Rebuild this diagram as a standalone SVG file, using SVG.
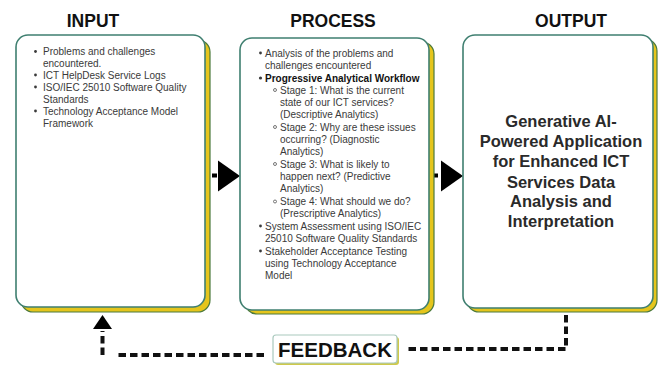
<svg xmlns="http://www.w3.org/2000/svg" xmlns:xlink="http://www.w3.org/1999/xlink" width="662" height="367" viewBox="0 0 662 367">
  <style>
    .title { font-family: "Liberation Sans", Arial, sans-serif; font-weight: bold; font-size: 17.5px; fill: #111; text-anchor: middle; }
    .card { fill: #ffffff; stroke: #3f7f70; stroke-width: 1.6; }
    .shadow { fill: #e5c51c; stroke: #4c7a3c; stroke-width: 1.2; }
    .body { font-family: "Liberation Sans", Arial, sans-serif; font-size: 10px; fill: #3a3a3a; }
    .strong { font-weight: bold; fill: #111; }
    .dot { fill: #3a3a3a; }
    .ring { fill: none; stroke: #555; stroke-width: 0.8; }
    .result { font-family: "Liberation Sans", Arial, sans-serif; font-weight: bold; font-size: 16.5px; fill: #2a2a2a; text-anchor: middle; }
    .dash { fill: none; stroke: #111; stroke-width: 4; stroke-dasharray: 7.5 4; }
    .head { fill: #000; }
    .fb-box { fill: #ffffff; stroke: #a9c9bd; stroke-width: 1.2; }
    .fb-shadow { fill: #cfc94a; }
    .fb-text { font-family: "Liberation Sans", Arial, sans-serif; font-weight: bold; font-size: 20.5px; fill: #111; text-anchor: middle; }
  </style>
  <defs>
    <polygon id="flow-head" points="0,-15.5 22,0 0,15.5"/>
  </defs>

  <rect width="662" height="367" fill="#ffffff"/>

  <!-- column headings -->
  <text class="title" x="93" y="27">INPUT</text>
  <text class="title" x="333" y="27">PROCESS</text>
  <text class="title" x="571" y="27">OUTPUT</text>

  <!-- connectors -->
  <g id="connectors">
    <!-- input to process -->
    <rect x="212" y="173.5" width="5" height="4" class="head"/>
    <use xlink:href="#flow-head" class="head" x="218" y="176"/>
    <!-- process to output -->
    <rect x="434" y="173.5" width="4" height="4" class="head"/>
    <use xlink:href="#flow-head" class="head" x="441" y="176"/>
    <!-- feedback loop: output down and back to feedback -->
    <path class="dash" d="M566 315 V349 H405"/>
    <!-- feedback back to input -->
    <path class="dash" d="M264 355 H118"/>
    <path class="dash" d="M102.5 355 V331"/>
    <polygon class="head" points="93,329 112,329 102.5,315"/>
  </g>

  <!-- INPUT -->
  <g id="input">
    <rect class="shadow" x="21" y="40" width="189" height="272" rx="12"/>
    <rect class="card" x="16" y="35" width="189" height="272" rx="12"/>
    <circle class="dot" cx="35.5" cy="51.5" r="1.4"/>
    <text class="body" x="43" y="55">Problems and challenges</text>
    <text class="body" x="43" y="66.5">encountered.</text>
    <circle class="dot" cx="35.5" cy="75" r="1.4"/>
    <text class="body" x="43" y="78.5">ICT HelpDesk Service Logs</text>
    <circle class="dot" cx="35.5" cy="87" r="1.4"/>
    <text class="body" x="43" y="90.5">ISO/IEC 25010 Software Quality</text>
    <text class="body" x="43" y="102.5">Standards</text>
    <circle class="dot" cx="35.5" cy="111" r="1.4"/>
    <text class="body" x="43" y="114.5">Technology Acceptance Model</text>
    <text class="body" x="43" y="126.5">Framework</text>
  </g>

  <!-- PROCESS -->
  <g id="process">
    <rect class="shadow" x="245" y="42" width="189" height="272" rx="12"/>
    <rect class="card" x="240" y="38" width="189" height="272" rx="12"/>
    <circle class="dot" cx="260.5" cy="53" r="1.4"/>
    <text class="body" x="265" y="56.5">Analysis of the problems and</text>
    <text class="body" x="265" y="68.5">challenges encountered</text>
    <circle class="dot" cx="260.5" cy="78" r="1.6" fill="#111"/>
    <text class="body strong" x="265" y="81.5">Progressive Analytical Workflow</text>
    <circle class="ring" cx="275" cy="90" r="1.5"/>
    <text class="body" x="280" y="93.5">Stage 1: What is the current</text>
    <text class="body" x="280" y="105.5">state of our ICT services?</text>
    <text class="body" x="280" y="117.5">(Descriptive Analytics)</text>
    <circle class="ring" cx="275" cy="127" r="1.5"/>
    <text class="body" x="280" y="130.5">Stage 2: Why are these issues</text>
    <text class="body" x="280" y="142.5">occurring? (Diagnostic</text>
    <text class="body" x="280" y="155">Analytics)</text>
    <circle class="ring" cx="275" cy="164" r="1.5"/>
    <text class="body" x="280" y="167.5">Stage 3: What is likely to</text>
    <text class="body" x="280" y="179.5">happen next? (Predictive</text>
    <text class="body" x="280" y="191.5">Analytics)</text>
    <circle class="ring" cx="275" cy="201.5" r="1.5"/>
    <text class="body" x="280" y="205">Stage 4: What should we do?</text>
    <text class="body" x="280" y="217">(Prescriptive Analytics)</text>
    <circle class="dot" cx="260.5" cy="226" r="1.4"/>
    <text class="body" x="265" y="229.5">System Assessment using ISO/IEC</text>
    <text class="body" x="265" y="241.5">25010 Software Quality Standards</text>
    <circle class="dot" cx="260.5" cy="251" r="1.4"/>
    <text class="body" x="265" y="254.5">Stakeholder Acceptance Testing</text>
    <text class="body" x="265" y="266.5">using Technology Acceptance</text>
    <text class="body" x="265" y="278.5">Model</text>
  </g>

  <!-- OUTPUT -->
  <g id="output">
    <rect class="shadow" x="467" y="39" width="190" height="273" rx="12"/>
    <rect class="card" x="463" y="35" width="190" height="273" rx="12"/>
    <text class="result" x="561" y="126.5">Generative AI-</text>
    <text class="result" x="561" y="147">Powered Application</text>
    <text class="result" x="561" y="167">for Enhanced ICT</text>
    <text class="result" x="561" y="187.5">Services Data</text>
    <text class="result" x="561" y="207">Analysis and</text>
    <text class="result" x="561" y="227">Interpretation</text>
  </g>

  <!-- FEEDBACK -->
  <g id="feedback">
    <rect class="fb-shadow" x="275" y="337" width="124" height="28" rx="3"/>
    <rect class="fb-box" x="273" y="335" width="124" height="28" rx="3"/>
    <text class="fb-text" x="335" y="356.5">FEEDBACK</text>
  </g>
</svg>
